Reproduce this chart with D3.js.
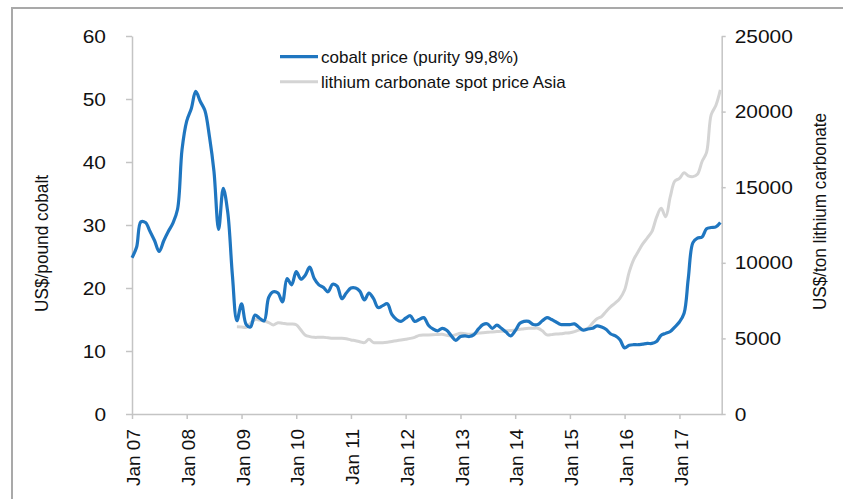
<!DOCTYPE html>
<html>
<head>
<meta charset="utf-8">
<script src="https://cdn.jsdelivr.net/npm/d3@7"></script>
<style>
  html, body { margin: 0; padding: 0; background: #fff; }
  svg { display: block; }
  text { font-family: "Liberation Sans", Arial, Helvetica, sans-serif; fill: #111; }
</style>
</head>
<body>
<svg id="chart" width="843" height="499"></svg>
<script>
// ---- Data (monthly) ----
// Cobalt price, US$/pound, Jan 2007 .. Oct 2017
const cobaltStart = [2007, 0];
const cobalt = [
  24.8, 26.5, 30.5, 30.4, 29.0, 27.5, 25.8, 27.5, 29.0, 30.3, 32.5, 42.0,   // 2007
  46.5, 48.5, 51.2, 49.6, 48.2, 44.0, 38.5, 29.3, 35.8, 32.0, 22.0, 14.8,   // 2008
  17.5, 14.2, 13.8, 15.7, 15.2, 14.8, 18.5, 19.4, 19.2, 17.8, 21.5, 20.5,   // 2009
  22.6, 21.4, 22.0, 23.3, 21.5, 20.5, 20.1, 19.4, 20.6, 20.3, 18.3, 19.2,   // 2010
  20.0, 20.0, 19.5, 18.1, 19.2, 18.3, 16.9, 17.2, 17.5, 15.8, 15.0, 14.7,   // 2011
  15.2, 15.6, 14.7, 15.0, 15.3, 14.1, 13.5, 13.2, 13.6, 13.3, 12.4, 11.7,   // 2012
  12.3, 12.4, 12.3, 12.6, 13.5, 14.2, 14.3, 13.6, 14.1, 13.6, 13.0, 12.4,   // 2013
  13.2, 14.4, 14.7, 14.7, 14.2, 14.2, 14.8, 15.3, 15.0, 14.6, 14.2, 14.2,   // 2014
  14.2, 14.3, 13.8, 13.3, 13.5, 13.6, 14.0, 13.8, 13.4, 12.7, 12.4, 11.8,   // 2015
  10.5, 10.9, 11.0, 11.0, 11.1, 11.2, 11.2, 11.5, 12.5, 12.8, 13.1, 13.8,   // 2016
  14.6, 16.0, 21.5, 27.2, 27.9, 28.1, 29.4, 29.6, 29.7, 30.4                // 2017
];
// Lithium carbonate spot price Asia, US$/ton, Dec 2008 .. Oct 2017
const lithiumStart = [2008, 11];
const lithium = [
  5770,                                                                        // Dec 2008
  5760, 5730, 6000, 6250, 6220, 6150, 6050, 5890, 6040, 6000, 5950, 5950,      // 2009
  5900, 5550, 5230, 5120, 5070, 5070, 5070, 5040, 5010, 5010, 5010, 4980,      // 2010
  4900, 4850, 4780, 4720, 4940, 4720, 4720, 4720, 4750, 4800, 4850, 4900,      // 2011
  4950, 5000, 5070, 5200, 5230, 5230, 5240, 5260, 5270, 5200, 5160, 5250,      // 2012
  5340, 5300, 5270, 5300, 5350, 5380, 5400, 5430, 5450, 5470, 5500, 5520,      // 2013
  5560, 5600, 5640, 5670, 5670, 5670, 5500, 5230, 5250, 5290, 5300, 5350,      // 2014
  5380, 5450, 5550, 5600, 5670, 6000, 6300, 6450, 6800, 7100, 7350, 7650,      // 2015
  8200, 9400, 10200, 10750, 11250, 11650, 12060, 13000, 13600, 13050, 14370, 15400, // 2016
  15580, 15950, 15750, 15700, 15850, 16700, 17300, 19800, 20400, 21430         // 2017
];
const leftTicks = [0, 10, 20, 30, 40, 50, 60];
const rightTicks = [0, 5000, 10000, 15000, 20000, 25000];
const yearTicks = [2007, 2008, 2009, 2010, 2011, 2012, 2013, 2014, 2015, 2016, 2017];
const seriesNames = ["cobalt price (purity 99,8%)", "lithium carbonate spot price Asia"];
const axisTitles = ["US$/pound cobalt", "US$/ton lithium carbonate"];

// ---- Build series ----
const toSeries = (start, vals) => vals.map((v, i) => ({ date: new Date(start[0], start[1] + i, 1), v }));
const cobaltData = toSeries(cobaltStart, cobalt);
const lithiumData = toSeries(lithiumStart, lithium);

// ---- Layout ----
const svg = d3.select("#chart");
const L = 132, R = 721.7, T = 36, B = 414;
const x = d3.scaleTime().domain([new Date(2007, 0, 1), new Date(2017, 9, 10)]).range([L, R]);
const yL = d3.scaleLinear().domain([0, 60]).range([B, T]);
const yR = d3.scaleLinear().domain([0, 25000]).range([B, T]);

const blue = "#1f76c0", gray = "#d4d4d4", axisCol = "#c4c4c4";

// frame
svg.append("rect").attr("x", 12).attr("y", 8).attr("width", 900).attr("height", 600)
  .attr("fill", "none").attr("stroke", "#a9a9a9").attr("stroke-width", 2);

function styleAxis(g) {
  g.selectAll("path.domain").attr("stroke", axisCol).attr("stroke-width", 1.5);
  g.selectAll(".tick line").attr("stroke", axisCol).attr("stroke-width", 1.5);
  g.selectAll(".tick text").style("font-size", "19px").attr("fill", "#111")
    .style("font-family", '"Liberation Sans", Arial, sans-serif');
}
function stretch(sel, k) {
  sel.each(function () {
    const w = this.getComputedTextLength();
    d3.select(this).attr("textLength", w * k).attr("lengthAdjust", "spacingAndGlyphs");
  });
}

// left axis
const gL = svg.append("g").attr("transform", `translate(${L},0)`)
  .call(d3.axisLeft(yL).tickValues(leftTicks).tickFormat(d3.format("d"))
    .tickSize(6).tickSizeOuter(0).tickPadding(20));
styleAxis(gL);
stretch(gL.selectAll(".tick text"), 1.1);

// right axis
const gR = svg.append("g").attr("transform", `translate(${R},0)`)
  .call(d3.axisRight(yR).tickValues(rightTicks).tickFormat(d3.format("d"))
    .tickSize(4).tickSizeOuter(0).tickPadding(9));
styleAxis(gR);
stretch(gR.selectAll(".tick text"), 1.1);

// bottom axis
const gB = svg.append("g").attr("transform", `translate(0,${B})`)
  .call(d3.axisBottom(x).tickValues(yearTicks.map(y => new Date(y, 0, 1)))
    .tickFormat(d3.timeFormat("%b %y")).tickSize(5).tickSizeOuter(0));
styleAxis(gB);
gB.selectAll(".tick text")
  .attr("transform", "rotate(-90)")
  .attr("x", -15).attr("y", 1).attr("dy", "0.35em")
  .attr("text-anchor", "end");

// lines
const lineL = d3.line().x(d => x(d.date)).y(d => yL(d.v)).curve(d3.curveCatmullRom.alpha(0.5));
const lineR = d3.line().x(d => x(d.date)).y(d => yR(d.v)).curve(d3.curveCatmullRom.alpha(0.5));
svg.append("path").datum(lithiumData).attr("d", lineR)
  .attr("fill", "none").attr("stroke", gray).attr("stroke-width", 3).attr("stroke-linejoin", "round");
svg.append("path").datum(cobaltData).attr("d", lineL)
  .attr("fill", "none").attr("stroke", blue).attr("stroke-width", 3.2).attr("stroke-linejoin", "round");

// axis titles
svg.append("text").text(axisTitles[0])
  .attr("transform", "translate(48,243.5) rotate(-90)")
  .attr("text-anchor", "middle").style("font-size", "19px")
  .attr("textLength", 137).attr("lengthAdjust", "spacingAndGlyphs");
svg.append("text").text(axisTitles[1])
  .attr("transform", "translate(825.5,211.5) rotate(-90)")
  .attr("text-anchor", "middle").style("font-size", "19px")
  .attr("textLength", 197).attr("lengthAdjust", "spacingAndGlyphs");

// legend
const legend = svg.append("g");
[[blue, 56.7, 3.2], [gray, 81.7, 3]].forEach((s, i) => {
  legend.append("line").attr("x1", 280).attr("x2", 318).attr("y1", s[1]).attr("y2", s[1])
    .attr("stroke", s[0]).attr("stroke-width", s[2]);
  legend.append("text").text(seriesNames[i]).attr("x", 321).attr("y", s[1]).attr("dy", "0.35em")
    .style("font-size", "17px");
});
</script>
</body>
</html>
